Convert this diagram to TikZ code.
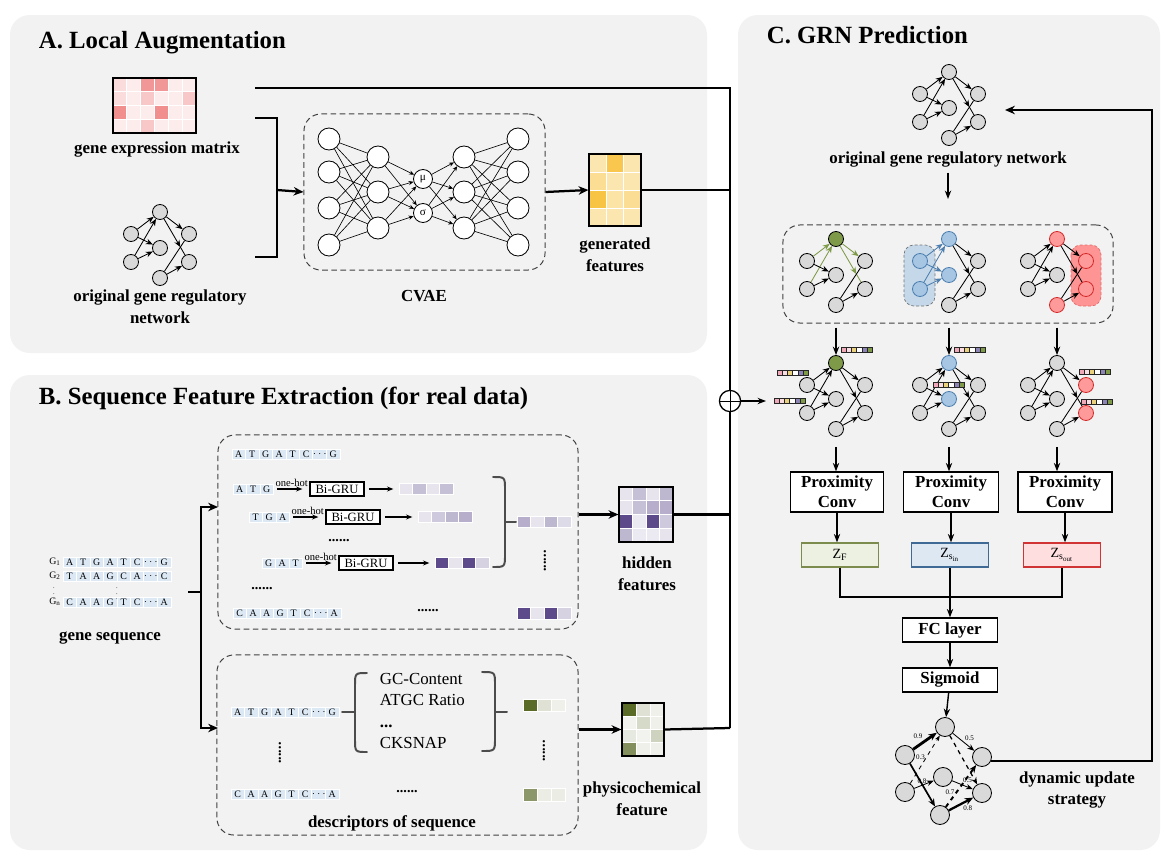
\documentclass[tikz,border=0pt]{standalone}
\usepackage{fontspec}
\setmainfont{Liberation Serif}
\usetikzlibrary{arrows.meta}

\definecolor{panelgray}{HTML}{F2F2F2}
\definecolor{nodegray}{HTML}{D9D9D9}
\definecolor{seqblue}{HTML}{DCE8F4}
\definecolor{expred}{HTML}{EB5F5F}
\definecolor{featgold}{HTML}{F8C13A}
\definecolor{hidpurp}{HTML}{5C4A8A}
\definecolor{phyolive}{HTML}{5A6B28}
\definecolor{grnolive}{HTML}{7E9A48}
\definecolor{grnblue}{HTML}{A6C6E4}
\definecolor{grnblueline}{HTML}{4D7EAE}
\definecolor{grnred}{HTML}{FF9A9A}
\definecolor{grnredline}{HTML}{D42A2A}
\definecolor{blueshade}{HTML}{C4D8EA}
\definecolor{redshade}{HTML}{FF9494}
\definecolor{zfillF}{HTML}{EDF1E2}
\definecolor{zlineF}{HTML}{7C8C4C}
\definecolor{zfillin}{HTML}{DDE8F3}
\definecolor{zlinein}{HTML}{3F6A96}
\definecolor{zfillout}{HTML}{FFDEE0}
\definecolor{zlineout}{HTML}{D03434}
\definecolor{barpink}{HTML}{EFA9B8}
\definecolor{baryel}{HTML}{E9D17E}
\definecolor{barpur}{HTML}{8B84B4}

\newcommand{\sqdots}{$\cdots$}
% row of sequence cells: name, x left, y, letters
\newcommand{\seqrow}[4]{%
  \foreach \s [count=\k] in {#4}
    \node[seqcell] (#1-\k) at ({#2+13.5*\k-6.75},#3) {\s};
}
% heat map cells: x, y, cell w, cell h, colour, rows
\newcommand{\heat}[6]{%
  \foreach \hrow [count=\hr from 0] in {#6}
    \foreach \hv [count=\hc from 0] in \hrow
      \filldraw[fill=#5!\hv!white, draw=white, line width=0.6pt]
        ({#1+#3*\hc},{#2+#4*\hr}) rectangle ++(#3,#4);
}
% small feature bar
\newcommand{\fbar}[2]{%
  \foreach \col [count=\hc from 0] in {barpink,barpink!40,baryel,white,barpur,grnolive}
    \filldraw[fill=\col, draw=black!85, line width=0.3pt] ({#1+5.2*\hc},#2) rectangle ++(5.2,5.5);
}

\tikzset{
  panel/.style={fill=panelgray, rounded corners=14pt},
  title/.style={font=\bfseries\fontsize{17.6}{19}\selectfont, anchor=west},
  lbl/.style={font=\bfseries\fontsize{12}{15.5}\selectfont, align=center},
  dashbox/.style={draw=black!75, dash pattern=on 4pt off 2.5pt, line width=0.7pt, rounded corners=12pt},
  conn/.style={line width=1.6pt},
  connarrow/.style={conn, -{Stealth[length=7pt,width=6pt]}},
  thinarrow/.style={line width=1pt, -{Stealth[length=6pt,width=4.5pt]}},
  smallarrow/.style={line width=0.8pt, -{Stealth[length=4.5pt,width=3.5pt]}},
  matbox/.style={draw, line width=0.8pt, inner sep=0pt},
  gnode/.style={circle, draw=black, line width=0.6pt, fill=nodegray, minimum size=0.375cm, inner sep=0pt},
  garrow/.style={line width=0.6pt, -{Stealth[length=5pt,width=4pt]}},
  gline/.style={line width=0.6pt},
  nT/.style={}, nL1/.style={}, nR1/.style={}, nM/.style={},
  nL2/.style={}, nR2/.style={}, nB/.style={},
  ein/.style={}, eleft/.style={}, eout/.style={},
  olivenode/.style={fill=grnolive},
  bluenode/.style={fill=grnblue, draw=grnblueline},
  rednode/.style={fill=grnred, draw=grnredline},
  grn/.pic={
    \node[gnode, nT] (-T) at (0,0) {};
    \node[gnode, nL1] (-L1) at (-29,22) {};
    \node[gnode, nR1] (-R1) at (29,22) {};
    \node[gnode, nM] (-M) at (0,36) {};
    \node[gnode, nL2] (-L2) at (-29,50) {};
    \node[gnode, nR2] (-R2) at (29,50) {};
    \node[gnode, nB] (-B) at (0,66) {};
    \coordinate (-X) at (20.4,35.1);
    \draw[garrow, ein] (-L1) -- (-T);
    \draw[garrow, ein] (-L2) -- (-T);
    \draw[garrow, eleft] (-L1) -- (-M);
    \draw[garrow, eleft] (-L2) -- (-M);
    \draw[garrow, eout] (-T) -- (-R1);
    \draw[gline, eout] (-X) -- (-R2);
    \draw[garrow, eout] (-T) -- (-X);
    \draw[gline] (-B) -- (-R1);
    \draw[garrow] (-B) -- (-R2);
  },
  nnode/.style={circle, draw, line width=0.6pt, fill=white, minimum size=0.55cm, inner sep=0pt},
  latent/.style={nnode, minimum size=0.475cm, font=\fontsize{8}{9}\selectfont},
  nnline/.style={line width=0.45pt},
  nnarrow/.style={line width=0.45pt, -{Stealth[length=3.5pt,width=3pt]}},
  seqcell/.style={fill=seqblue, draw=white, line width=0.5pt, minimum width=0.3375cm, minimum height=0.25cm, inner sep=0pt, font=\fontsize{7}{8}\selectfont},
  seqlab/.style={font=\fontsize{7}{8}\selectfont, inner sep=0pt},
  vdotlab/.style={font=\fontsize{4.5}{5}\selectfont, inner sep=0pt},
  grubox/.style={draw, line width=0.8pt, fill=white, minimum width=1.35cm, minimum height=0.35cm, inner sep=0pt, font=\fontsize{9}{10}\selectfont},
  hotlbl/.style={font=\fontsize{7.5}{8}\selectfont, inner sep=1pt},
  brace/.style={line width=1.4pt, draw=black!70, line cap=round},
  dotrow/.style={font=\bfseries\fontsize{10}{10}\selectfont, inner sep=0pt},
  opbox/.style={draw, fill=white, line width=0.9pt, font=\bfseries\fontsize{12}{14}\selectfont, align=center, inner sep=0pt},
  zbox/.style={line width=0.9pt, minimum width=1.925cm, minimum height=0.6cm, font=\fontsize{10}{11}\selectfont},
  shadebox/.style={dash pattern=on 2pt off 1.5pt, line width=0.5pt, rounded corners=7pt},
  pnode/.style={gnode, minimum size=0.475cm},
  wlbl/.style={font=\fontsize{5}{6}\selectfont, inner sep=0.8pt},
}

\begin{document}
\begin{tikzpicture}[x=0.025cm, y=-0.025cm]
\useasboundingbox (0,0) rectangle (1171,861);
% Panels
\fill[panel] (10,15) rectangle (707,353);
\fill[panel] (10,375) rectangle (707,850);
\fill[panel] (738,15) rectangle (1160,850);
\node[title] (ttlA) at (34,43) {A. Local Augmentation};
\node[title] (ttlB) at (34,398) {B. Sequence Feature Extraction (for real data)};
\node[title] (ttlC) at (762,35) {C. GRN Prediction};

% A. expression matrix and network
\heat{113}{78}{13.83}{13.75}{expred}{{22,12,65,65,12,12},{22,12,35,12,12,35},{70,12,12,70,12,12},{12,12,35,12,12,12}}
\node[matbox, minimum width=2.075cm, minimum height=1.375cm] (expm) at (154.5,105.5) {};
\node[lbl] (expl) at (157,150) {gene expression matrix};
\pic (agrn) at (160,212) {grn};
\node[lbl] (agrnl) at (160,307) {original gene regulatory\\network};

% A. CVAE
\node[dashbox, minimum width=6.025cm, minimum height=3.9cm] (cvae) at (424.5,192) {};
\node[lbl] (cvael) at (424,296) {CVAE};
\foreach \y [count=\i] in {139,172,208,245} {
  \node[nnode] (e1-\i) at (329,\y) {};
  \node[nnode] (d1-\i) at (518,\y) {};
}
\foreach \y [count=\i] in {157,192,228} {
  \node[nnode] (e2-\i) at (378,\y) {};
  \node[nnode] (d2-\i) at (464,\y) {};
}
\node[latent] (mu) at (423,179) {μ};
\node[latent] (sg) at (423,213) {σ};
\foreach \i in {1,...,4}
  \foreach \j in {1,2,3} {
    \draw[nnline] (e1-\i) -- (e2-\j);
    \draw[nnline] (d2-\j) -- (d1-\i);
  }
\foreach \i in {1,2,3}
  \foreach \j in {mu,sg} {
    \draw[nnarrow] (e2-\i) -- (\j);
    \draw[nnarrow] (\j) -- (d2-\i);
  }
\coordinate (brk1) at (255,118);
\coordinate (brkmid) at (277,190);
\coordinate (brk2) at (255,257);
\draw[conn] (brk1) -| (brkmid) |- (brk2);
\draw[connarrow] (brkmid) -- (cvae.west);

% A. generated features
\heat{589}{154}{17.33}{18}{featgold}{{40,90,40},{55,40,40},{95,45,55},{40,40,40}}
\node[matbox, minimum width=1.3cm, minimum height=1.8cm] (genm) at (615,190) {};
\node[lbl] (genl) at (615,255) {generated\\features};
\draw[connarrow] (cvae.east) -- (genm.west);

% B. gene sequence
\seqrow{g1}{63}{562}{A,T,G,A,T,C,\sqdots,G}
\seqrow{g2}{63}{576}{T,A,A,G,C,A,\sqdots,C}
\seqrow{gn}{63}{602}{C,A,A,G,T,C,\sqdots,A}
\node[seqlab] (g1l) at (55,562) {G\textsubscript{1}};
\node[seqlab] (g2l) at (55,576) {G\textsubscript{2}};
\node[seqlab] (gnl) at (55,602) {G\textsubscript{n}};
\node[vdotlab] (gvd1) at (54,589.5) {$\vdots$};
\node[vdotlab] (gvd2) at (117,589.5) {$\vdots$};
\node[lbl] (gsl) at (110,638) {gene sequence};
\coordinate (gsout) at (188,592);
\coordinate (gsplit) at (201,592);
\coordinate (upin) at (218,507);
\coordinate (lowin) at (218,728);
\draw[conn] (gsout) -- (gsplit);
\draw[connarrow] (gsplit) |- (upin);
\draw[connarrow] (gsplit) |- (lowin);

% B. upper box: Bi-GRU encoding
\node[dashbox, minimum width=9cm, minimum height=4.85cm] (upbox) at (398,532) {};
\seqrow{u0}{232}{454}{A,T,G,A,T,C,\sqdots,G}
\seqrow{u1}{233}{489}{A,T,G}
\seqrow{u2}{249}{517}{T,G,A}
\seqrow{u3}{262}{563}{G,A,T}
\seqrow{un}{233}{613}{C,A,A,G,T,C,\sqdots,A}
\node[grubox] (gru1) at (337,489) {Bi-GRU};
\node[grubox] (gru2) at (353,517) {Bi-GRU};
\node[grubox] (gru3) at (366,563) {Bi-GRU};
\draw[smallarrow, shorten <=2.5pt, shorten >=5pt] (u1-3.east) -- node[hotlbl, above] {one-hot} (gru1.west);
\draw[smallarrow, shorten <=2.5pt, shorten >=5pt] (u2-3.east) -- node[hotlbl, above] {one-hot} (gru2.west);
\draw[smallarrow, shorten <=2.5pt, shorten >=5pt] (u3-3.east) -- node[hotlbl, above] {one-hot} (gru3.west);
\heat{399}{483}{13.5}{11}{hidpurp}{{15,35,15,35}}
\heat{418}{511}{13.5}{11}{hidpurp}{{15,30,40,45}}
\heat{435}{557}{13.5}{11}{hidpurp}{{100,15,100,25}}
\heat{517}{516}{13.5}{11}{hidpurp}{{45,15,40,20}}
\heat{517}{607}{13.5}{12}{hidpurp}{{100,15,100,25}}
\coordinate (bar1) at (399,489);
\coordinate (bar2) at (418,517);
\coordinate (bar3) at (435,563);
\draw[smallarrow, shorten <=3pt, shorten >=4pt] (gru1.east) -- (bar1);
\draw[smallarrow, shorten <=3pt, shorten >=4pt] (gru2.east) -- (bar2);
\draw[smallarrow, shorten <=3pt, shorten >=4pt] (gru3.east) -- (bar3);
\node[dotrow] (ud1) at (339,541) {......};
\node[dotrow] (ud2) at (262,589) {......};
\node[dotrow] (ud3) at (428,611) {......};
\node[dotrow, rotate=90] (ud4) at (545,561) {......};
\draw[brace] (493,477) .. controls (505,477) .. (505,490) -- (505,554) .. controls (505,567) .. (493,567);
\draw[brace] (505,522) -- (516,522);

% B. hidden features
\heat{619}{487}{13.5}{13.75}{hidpurp}{{15,35,15,40},{15,35,45,45},{100,12,100,30},{40,12,12,15}}
\node[matbox, minimum width=1.35cm, minimum height=1.375cm] (hidm) at (646,514.5) {};
\node[lbl] (hidl) at (647,574) {hidden\\features};
\draw[connarrow] (upbox.east |- hidm.west) -- (hidm.west);

% B. lower box: descriptors
\node[dashbox, minimum width=9.025cm, minimum height=4.5cm] (lowbox) at (397.5,745) {};
\seqrow{l0}{231}{712}{A,T,G,A,T,C,\sqdots,G}
\seqrow{ln}{231}{794}{C,A,A,G,T,C,\sqdots,A}
\draw[brace] (367,673) .. controls (355,673) .. (355,686) -- (355,739) .. controls (355,752) .. (367,752);
\draw[brace] (342,712) -- (355,712);
\node[anchor=west, align=left, font=\fontsize{12}{15}\selectfont] (desc) at (375,711) {GC-Content\\ATGC Ratio\\\textbf{...}\\CKSNAP};
\draw[brace] (482,672) .. controls (495,672) .. (495,685) -- (495,738) .. controls (495,751) .. (482,751);
\draw[brace] (495,712) -- (507,712);
\heat{523}{699}{14}{12}{phyolive}{{100,20,10}}
\heat{523}{788}{14}{13}{phyolive}{{70,12,12}}
\node[dotrow, rotate=90] (ld1) at (280,753) {......};
\node[dotrow, rotate=90] (ld2) at (544,751) {......};
\node[dotrow] (ld3) at (407,792) {......};
\node[lbl] (descl) at (392,823) {descriptors of sequence};

% B. physicochemical feature
\heat{622}{703}{14}{13.25}{phyolive}{{100,20,10},{8,25,10},{15,8,30},{75,10,10}}
\node[matbox, minimum width=1.05cm, minimum height=1.325cm] (phym) at (643,729.5) {};
\node[lbl] (phyl) at (642,799) {physicochemical\\feature};
\draw[connarrow] (lowbox.east |- phym.west) -- (phym.west);

% bus into C
\coordinate (atop) at (255,88);
\coordinate (bustop) at (730,88);
\coordinate (busbot) at (730,728);
\coordinate (r1in) at (766,401);
\node[circle, draw, line width=0.9pt, minimum size=0.53cm, inner sep=0pt] (oplus) at (730,401) {};
\draw (oplus.west) -- (oplus.east) (oplus.north) -- (oplus.south);
\draw[conn] (atop) -- (bustop) -- (oplus.north);
\draw[conn] (oplus.south) -- (busbot);
\draw[conn] (genm.east) -- (genm.east -| bustop);
\draw[conn] (hidm.east) -- (hidm.east -| bustop);
\draw[conn] (phym.east) -- (busbot);
\draw[thinarrow] (oplus.east) -- (r1in);

% C. original network and views
\pic (c0) at (949,72) {grn};
\node[lbl] (c0l) at (948,160) {original gene regulatory network};
\node[dashbox, minimum width=8.25cm, minimum height=2.45cm] (cbox) at (948,274) {};
\coordinate (cboxin) at (948,199);
\draw[thinarrow] (c0l.south) -- (cboxin);
\draw[shadebox, fill=blueshade, draw=black!55] (904,245) rectangle (935,306);
\draw[shadebox, fill=redshade, draw=grnredline!70] (1071,245) rectangle (1101,306);
\pic[nT/.style=olivenode, ein/.style={draw=grnolive}, eout/.style={draw=grnolive}] (c1) at (836,239) {grn};
\pic[nT/.style=bluenode, nL1/.style=bluenode, nL2/.style=bluenode, nM/.style=bluenode,
     ein/.style={draw=grnblueline}, eleft/.style={draw=grnblueline}] (c2) at (949,239) {grn};
\pic[nT/.style=rednode, nB/.style=rednode, nR1/.style=rednode, nR2/.style=rednode] (c3) at (1057,239) {grn};

% C. networks with features
\pic[nT/.style=olivenode] (r1) at (836,363) {grn};
\pic[nT/.style=bluenode, nM/.style=bluenode] (r2) at (949,363) {grn};
\pic[nR1/.style=rednode, nR2/.style=rednode] (r3) at (1057,363) {grn};
\fbar{841}{347}
\fbar{777}{370}
\fbar{774}{398}
\fbar{954}{347}
\fbar{933}{382}
\fbar{1079}{369}
\fbar{1081}{399}
\foreach \n in {r1,r2,r3}
  \draw[thinarrow, shorten <=3pt] (cbox.south -| \n-T) -- (\n-T.north);

% C. proximity convolution
\node[opbox, minimum width=2.325cm, minimum height=1cm] (px1) at (837,492) {Proximity\\Conv};
\node[opbox, minimum width=2.375cm, minimum height=1cm] (px2) at (951,492) {Proximity\\Conv};
\node[opbox, minimum width=2.35cm, minimum height=1cm] (px3) at (1065,492) {Proximity\\Conv};
\draw[thinarrow, shorten <=7pt] (r1-B.south) -- (r1-B.south |- px1.north);
\draw[thinarrow, shorten <=7pt] (r2-B.south) -- (r2-B.south |- px2.north);
\draw[thinarrow, shorten <=7pt] (r3-B.south) -- (r3-B.south |- px3.north);
\node[zbox, fill=zfillF, draw=zlineF] (z1) at (840,555) {Z\textsubscript{F}};
\node[zbox, fill=zfillin, draw=zlinein] (z2) at (950,555) {Z$_{\mathrm{s}_{\mathrm{in}}}$};
\node[zbox, fill=zfillout, draw=zlineout] (z3) at (1062,555) {Z$_{\mathrm{s}_{\mathrm{out}}}$};
\draw[thinarrow] (px1.south) -- (px1.south |- z1.north);
\draw[thinarrow] (px2.south) -- (px2.south |- z2.north);
\draw[thinarrow] (px3.south) -- (px3.south |- z3.north);
\coordinate (zjoin) at (950,597);
\draw[line width=1.3pt] (z1.south) |- (zjoin) -| (z3.south);
\draw[line width=1.3pt] (z2.south) -- (zjoin);
\node[opbox, minimum width=2.375cm, minimum height=0.6cm] (fc) at (950,630) {FC layer};
\node[opbox, minimum width=2.375cm, minimum height=0.6cm] (sig) at (950,680) {Sigmoid};
\draw[thinarrow] (zjoin) -- (fc.north);
\draw[thinarrow] (fc) -- (sig);

% C. weighted network
\node[pnode] (pt) at (945,727) {};
\node[pnode] (plu) at (905,755) {};
\node[pnode] (pru) at (982,757) {};
\node[pnode] (pm) at (943,777) {};
\node[pnode] (pll) at (905,792) {};
\node[pnode] (prl) at (982,793) {};
\node[pnode] (pb) at (940,815) {};
\draw[thinarrow] (sig) -- (pt);
\draw[line width=2pt, -{Stealth[length=6pt,width=5pt]}] (plu) -- node[wlbl, above left] {0.9} (pt);
\draw[garrow] (pt) -- node[wlbl, above right] {0.5} (pru);
\draw[gline, dashed, -{Stealth[length=4pt,width=3pt]}] (pll) -- node[wlbl, left, pos=0.55] {0.3} (pt);
\draw[garrow] (pll) -- node[wlbl, above, pos=0.4] {0.8} (pm);
\draw[line width=1.2pt, -{Stealth[length=5.5pt,width=4.5pt]}] (plu) -- (pb);
\draw[garrow] (pm) -- node[wlbl, above right, pos=0.45] {0.5} (prl);
\draw[line width=0.9pt, dashed, -{Stealth[length=5pt,width=4pt]}] (pt) -- (prl);
\draw[line width=1.4pt, dashed, -{Stealth[length=5.5pt,width=4.5pt]}] (pb) -- node[wlbl, left, pos=0.35] {0.7} (pru);
\draw[line width=1.6pt, -{Stealth[length=6pt,width=5pt]}] (pb) -- node[wlbl, below right, pos=0.5] {0.8} (prl);
\node[lbl] (dynl) at (1077,790) {dynamic update\\strategy};
\coordinate (fbcorner) at (1152,110);
\coordinate (fbend) at (1005,110);
\draw[connarrow] (pru.-25) -| (fbcorner) -- (fbend);
\end{tikzpicture}
\end{document}
